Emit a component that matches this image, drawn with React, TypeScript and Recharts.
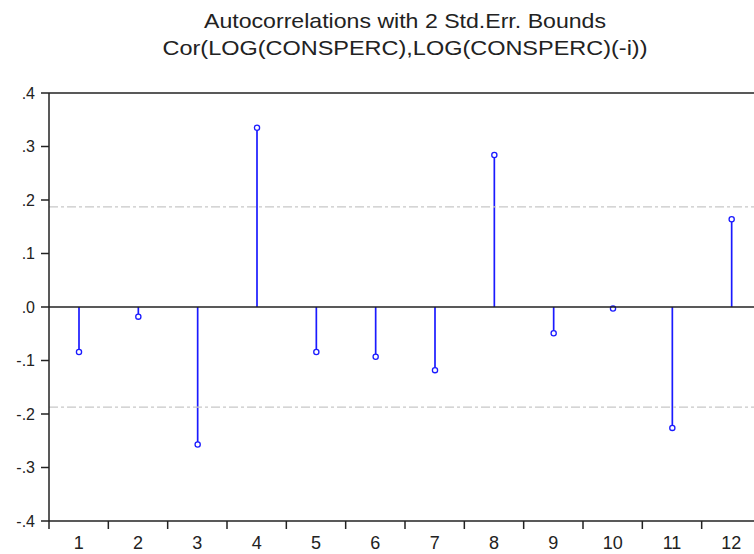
import React from 'react';
import {
  ComposedChart,
  Bar,
  XAxis,
  YAxis,
  ReferenceLine
} from 'recharts';

// lags shown on the x axis
const lags = ['1', '2', '3', '4', '5', '6', '7', '8', '9', '10', '11', '12'];

// autocorrelation at each lag
const acf = [-0.084, -0.018, -0.257, 0.335, -0.084, -0.093, -0.118, 0.284, -0.049, -0.003, -0.226, 0.164];

// +/- 2 standard error bounds
const upperBound = 0.187;
const lowerBound = -0.187;

const yTicks = [-0.4, -0.3, -0.2, -0.1, 0, 0.1, 0.2, 0.3, 0.4];

const titleLines = [
  'Autocorrelations with 2 Std.Err. Bounds',
  'Cor(LOG(CONSPERC),LOG(CONSPERC)(-i))'
];

const data = lags.map((lag, i) => ({ lag, acf: acf[i] }));

const font = 'Arial, "Liberation Sans", sans-serif';
const blue = '#1a1aff';
const ink = '#222';

const fmtY = (v: number) => {
  const s = v.toFixed(1);
  return s.replace('0.', '.');
};

const Stem = (props: any) => {
  const { x, y, width, height, payload } = props;
  const cx = x + width / 2;
  const top = Math.min(y, y + height);
  const bottom = Math.max(y, y + height);
  const up = payload.acf >= 0;
  const end = up ? top : bottom;
  const base = up ? bottom : top;
  return (
    <g>
      <line x1={cx} x2={cx} y1={base} y2={end} stroke={blue} strokeWidth={1.7} />
      <circle cx={cx} cy={end} r={2.6} fill="#fff" stroke={blue} strokeWidth={1.3} />
    </g>
  );
};

const LagTick = (props: any) => {
  const { x, y, payload } = props;
  const half = 712 / 12 / 2;
  return (
    <g>
      <line x1={x - half} x2={x - half} y1={y} y2={y + 8} stroke={ink} strokeWidth={1.5} />
      <text x={x} y={y + 28} textAnchor="middle" fontSize={18} fill={ink} fontFamily={font}>
        {payload.value}
      </text>
    </g>
  );
};

export default function App() {
  return (
    <div style={{ position: 'fixed', left: 0, top: 0, width: 754, height: 554, overflow: 'hidden', background: '#fff' }}>
      <svg width={754} height={70} style={{ position: 'absolute', left: 0, top: 0 }}>
        <text x={405} y={28} textAnchor="middle" fontSize={21} fill={ink} fontFamily={font}
          textLength={402} lengthAdjust="spacingAndGlyphs">
          {titleLines[0]}
        </text>
        <text x={405} y={55} textAnchor="middle" fontSize={21} fill={ink} fontFamily={font}
          textLength={485} lengthAdjust="spacingAndGlyphs">
          {titleLines[1]}
        </text>
      </svg>
      <div style={{ position: 'absolute', left: 0, top: 0 }}>
        <ComposedChart
          width={770}
          height={554}
          data={data}
          margin={{ top: 93, right: 9, bottom: 0, left: 0 }}
        >
          <XAxis
            dataKey="lag"
            type="category"
            height={33}
            axisLine={{ stroke: ink, strokeWidth: 1.5 }}
            tickLine={false}
            tickSize={0}
            tickMargin={0}
            interval={0}
            tick={<LagTick />}
          />
          <YAxis
            type="number"
            domain={[-0.4, 0.4]}
            ticks={yTicks}
            width={49}
            tickFormatter={fmtY}
            axisLine={{ stroke: ink, strokeWidth: 1.5 }}
            tickLine={{ stroke: ink, strokeWidth: 1.5 }}
            tickSize={8}
            tickMargin={6}
            tick={{ fill: ink, fontSize: 16, fontFamily: font }}
            allowDataOverflow
          />
          <ReferenceLine y={0.4} stroke={ink} strokeWidth={1.5} />
          <ReferenceLine y={upperBound} stroke="#c8c8c8" strokeWidth={1.3} strokeDasharray="9 3 3 3" />
          <ReferenceLine y={lowerBound} stroke="#c8c8c8" strokeWidth={1.3} strokeDasharray="9 3 3 3" />
          <ReferenceLine y={0} stroke={ink} strokeWidth={1.6} />
          <Bar dataKey="acf" barSize={6} shape={<Stem />} isAnimationActive={false} />
        </ComposedChart>
      </div>
    </div>
  );
}
